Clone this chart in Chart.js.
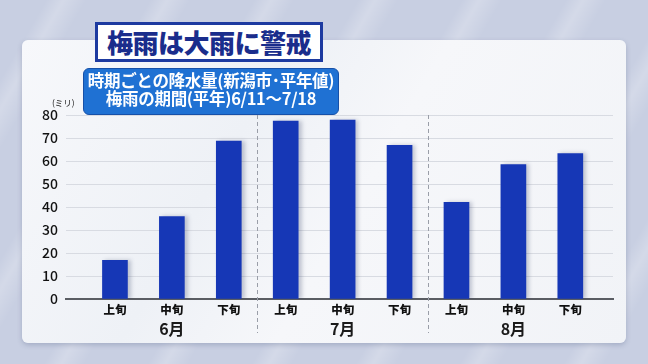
<!DOCTYPE html>
<html><head><meta charset="utf-8">
<script src="https://cdn.jsdelivr.net/npm/chart.js@4"></script>
<style>
html,body{margin:0;padding:0;}
body{width:648px;height:364px;overflow:hidden;position:relative;
background:#c8cfe2;
background-image:repeating-linear-gradient(120deg, rgba(255,255,255,0) 0px, rgba(255,255,255,0) 40px, rgba(255,255,255,0.22) 55px, rgba(255,255,255,0) 75px, rgba(255,255,255,0) 90px);
font-family:"Noto Sans CJK JP","Noto Sans",sans-serif;}
#panel{position:absolute;left:22px;top:40px;width:604px;height:303px;border-radius:6px;
background:linear-gradient(120deg,#f7f8fb 0%,#eef1f6 35%,#f6f7fa 55%,#f1f3f7 100%);
box-shadow:0 2px 5px rgba(60,70,110,0.25);}
#wrap{position:absolute;left:0;top:0;width:648px;height:364px;}
#title{position:absolute;left:95px;top:22px;width:222px;height:34px;border:3px solid #1d3aa0;background:#fff;
color:#1a2d8c;font-weight:900;font-size:26px;line-height:34px;text-align:center;letter-spacing:-0.5px;z-index:3;}
#sub{position:absolute;left:83px;top:68px;width:254px;height:43px;border:1px solid #1650a8;border-radius:6px;background:#1f71d3;
color:#fff;font-weight:700;font-size:16.5px;line-height:18px;text-align:center;padding-top:2px;z-index:3;letter-spacing:-0.3px;}
#unit{position:absolute;left:52px;top:96px;font-size:8.5px;color:#222;z-index:3;}
</style></head>
<body>
<div id="panel"></div>
<div id="wrap"><canvas id="c" width="648" height="364"></canvas></div>
<div id="title">梅雨は大雨に警戒</div>
<div id="sub">時期ごとの降水量(新潟市･平年値)<br>梅雨の期間(平年)6/11～7/18</div>
<div id="unit">(ミリ)</div>
<script>
const periods = ["上旬","中旬","下旬","上旬","中旬","下旬","上旬","中旬","下旬"];
const months = ["6月","7月","8月"];
const rainfall = [16.8, 35.8, 68.7, 77.4, 77.8, 66.8, 42.0, 58.4, 63.2];
const yTicks = [0,10,20,30,40,50,60,70,80];

const monthPlugin = {
  id:'monthPlugin',
  beforeDatasetsDraw(chart){
    const ctx = chart.ctx, x = chart.scales.x, area = chart.chartArea;
    ctx.save();
    ctx.strokeStyle = '#9a9ea8';
    ctx.lineWidth = 1;
    ctx.setLineDash([4,3]);
    [2.5,5.5].forEach(v=>{
      const px = Math.round(x.getPixelForValue(v))+0.5;
      ctx.beginPath(); ctx.moveTo(px, area.top); ctx.lineTo(px, 333); ctx.stroke();
    });
    ctx.restore();
    ctx.save();
    ctx.shadowColor = 'rgba(40,50,90,0.25)';
    ctx.shadowBlur = 4;
    ctx.shadowOffsetX = 3;
  },
  afterDatasetsDraw(chart){
    chart.ctx.restore();
  },
  afterDraw(chart){
    const ctx = chart.ctx, x = chart.scales.x;
    ctx.save();
    ctx.fillStyle = '#1a1a1a';
    ctx.font = 'bold 16px "Noto Sans CJK JP"';
    ctx.textAlign = 'center'; ctx.textBaseline = 'middle';
    months.forEach((m,i)=>{ ctx.fillText(m, x.getPixelForValue(i*3+1), 329); });
    ctx.restore();
  }
};

new Chart(document.getElementById('c'), {
  type:'bar',
  data:{
    datasets:[{
      data: rainfall.map((v,i)=>({x:i,y:v})),
      backgroundColor:'#1637b6',
      barThickness:25,
      borderWidth:0
    }]
  },
  options:{
    responsive:false,
    animation:false,
    layout:{padding:{top:115,right:35,left:0,bottom:0}},
    plugins:{legend:{display:false},tooltip:{enabled:false}},
    scales:{
      x:{
        type:'linear', min:-0.86, max:8.75, offset:false,
        grid:{display:false, drawTicks:false},
        border:{display:true,color:'#5a5d63',width:2},
        afterFit(s){ s.height = 65; },
        afterBuildTicks(s){ s.ticks = periods.map((p,i)=>({value:i})); },
        ticks:{
          autoSkip:false, maxRotation:0, padding:4,
          color:'#111',
          font:{family:'"Noto Sans CJK JP"', size:11.5, weight:'900'},
          callback:(v)=> periods[v]
        }
      },
      y:{
        min:0, max:80,
        afterFit(s){ s.width = 66; },
        afterBuildTicks(s){ s.ticks = yTicks.map(v=>({value:v})); },
        grid:{color:'#d8dbe2', lineWidth:1, drawTicks:false},
        border:{display:false},
        ticks:{padding:8, color:'#111', font:{family:'"Noto Sans CJK JP"', size:14, weight:'500'}}
      }
    }
  },
  plugins:[monthPlugin]
});
</script>
</body></html>
